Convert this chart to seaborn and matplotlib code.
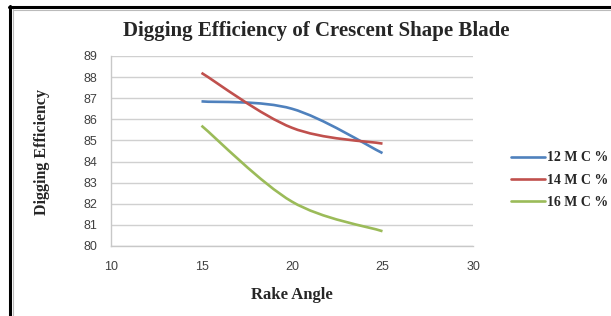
import numpy as np
import matplotlib
matplotlib.use("Agg")
import matplotlib.pyplot as plt
import seaborn as sns
from matplotlib.path import Path
from matplotlib.patches import PathPatch
from matplotlib.lines import Line2D

# data
rake_angle = [15, 20, 25]
mc_12 = [86.85, 86.5, 84.4]
mc_14 = [88.2, 85.6, 84.85]
mc_16 = [85.7, 82.1, 80.7]
series_names = ["12 M C %", "14 M C %", "16 M C %"]
colors = ["#4F81BD", "#C0504D", "#9BBB59"]

sns.set_style("white")
serif = ["Liberation Serif", "DejaVu Serif"]
sans = ["Liberation Sans", "DejaVu Sans"]


def smooth_path(x, y):
    # excel-style smoothed line: cubic bezier with catmull-rom tangents
    pts = np.column_stack([x, y]).astype(float)
    ext = np.vstack([pts[0], pts, pts[-1]])
    verts = [pts[0]]
    codes = [Path.MOVETO]
    for i in range(len(pts) - 1):
        p0, p1, p2, p3 = ext[i], ext[i + 1], ext[i + 2], ext[i + 3]
        verts += [p1 + (p2 - p0) / 6, p2 - (p3 - p1) / 6, p2]
        codes += [Path.CURVE4] * 3
    return Path(verts, codes)


fig = plt.figure(figsize=(6.11, 3.16), dpi=100)
ax = fig.add_axes([111 / 611, 1 - 246 / 316, (473 - 111) / 611, (246 - 56) / 316])

for yv, name, c in zip([mc_12, mc_14, mc_16], series_names, colors):
    ax.add_patch(PathPatch(smooth_path(rake_angle, yv), facecolor="none",
                           edgecolor=c, lw=1.9, capstyle="butt"))

ax.set_xlim(10, 30)
ax.set_ylim(80, 89)
ax.set_xticks([10, 15, 20, 25, 30])
ax.set_yticks(range(80, 90))
ax.yaxis.grid(True, color="#D0D0D0", lw=1)
ax.xaxis.grid(False)
for s in ["top", "right"]:
    ax.spines[s].set_visible(False)
for s in ["left", "bottom"]:
    ax.spines[s].set_color("#C8C8C8")
    ax.spines[s].set_linewidth(1)
ax.tick_params(length=0, labelsize=9, colors="#404040")
ax.tick_params(axis="y", pad=10)
ax.tick_params(axis="x", pad=11)
for lab in ax.get_xticklabels() + ax.get_yticklabels():
    lab.set_family(sans)

fig.text(0.517, 0.902, "Digging Efficiency of Crescent Shape Blade",
         ha="center", va="center", family=serif, weight="bold", size=15)
fig.text(292 / 611, 1 - 295 / 316, "Rake Angle", ha="center", va="center",
         family=serif, weight="bold", size=12)
fig.text(42 / 611, 1 - 152 / 316, "Digging Efficiency", ha="center", va="center",
         rotation=90, family=serif, weight="bold", size=11.5)

handles = [Line2D([], [], color=c, lw=1.9) for c in colors]
leg = fig.legend(handles, series_names, loc="center left",
                 bbox_to_anchor=(498 / 611, 1 - 180 / 316), frameon=False,
                 handlelength=2.5, handletextpad=0.1, labelspacing=0.65,
                 prop={"family": serif, "weight": "bold", "size": 10})

# outer frame of the original screenshot
fig.add_artist(Line2D([10 / 611, 10 / 611], [0, 1 - 6 / 316], color="black", lw=2.2))
fig.add_artist(Line2D([9 / 611, 1], [1 - 7 / 316, 1 - 7 / 316], color="black", lw=2.2))
fig.add_artist(Line2D([13 / 611, 13 / 611], [0, 1 - 9 / 316], color="#BBBBBB", lw=0.8))
fig.add_artist(Line2D([13 / 611, 1], [1 - 10 / 316, 1 - 10 / 316], color="#BBBBBB", lw=0.8))

fig.savefig("out.png", dpi=100)
